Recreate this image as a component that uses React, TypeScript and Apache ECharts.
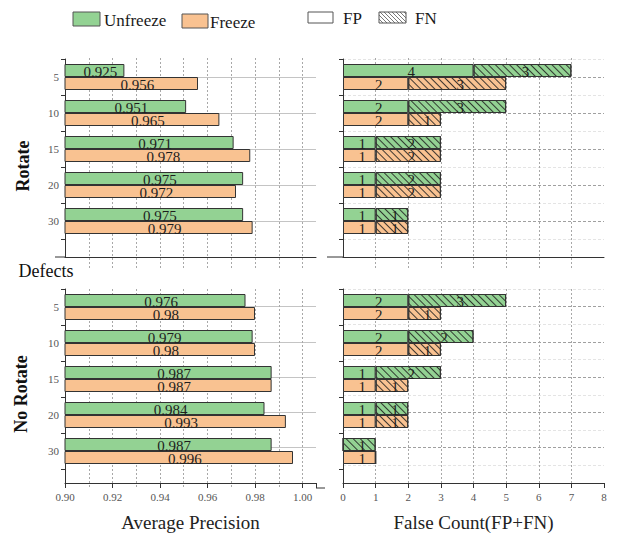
import React, { useEffect, useRef } from 'react';
import * as echarts from 'echarts';

// ---------------- data ----------------
const defects = ['5', '10', '15', '20', '30'];

const rotUnfreezeAP = [0.925, 0.951, 0.971, 0.975, 0.975];
const rotFreezeAP = [0.956, 0.965, 0.978, 0.972, 0.979];
const noRotUnfreezeAP = [0.976, 0.979, 0.987, 0.984, 0.987];
const noRotFreezeAP = [0.98, 0.98, 0.987, 0.993, 0.996];

const rotUnfreezeFP = [4, 2, 1, 1, 1];
const rotUnfreezeFN = [3, 3, 2, 2, 1];
const rotFreezeFP = [2, 2, 1, 1, 1];
const rotFreezeFN = [3, 1, 2, 2, 1];

const noRotUnfreezeFP = [2, 2, 1, 1, 0];
const noRotUnfreezeFN = [3, 2, 2, 1, 1];
const noRotFreezeFP = [2, 2, 1, 1, 1];
const noRotFreezeFN = [1, 1, 1, 1, 0];

const legendNames = ['Unfreeze', 'Freeze', 'FP', 'FN'];
const rowNames = ['Rotate', 'No Rotate'];
const axisNames = ['Average Precision', 'False Count(FP+FN)'];

// ---------------- style ----------------
const FONT = "'Liberation Serif', 'Times New Roman', serif";
const GREEN = '#93d293';
const ORANGE = '#f9c291';
const EDGE = '#333333';
const AP_MIN = 0.9;
const AP_MAX = 0.9 + 251 / 2375;

const hatch: any = {
  symbol: 'rect',
  symbolSize: 1,
  color: 'rgba(30,30,30,0.85)',
  dashArrayX: [1, 0],
  dashArrayY: [1, 3.8],
  rotation: Math.PI / 4,
};

function buildOption() {
  const grid: any[] = [];
  const xAxis: any[] = [];
  const yAxis: any[] = [];
  const series: any[] = [];

  const rows = [
    {
      top: 59, axisH: 198, bgTop: 58, bgH: 212, bottom: false,
      apU: rotUnfreezeAP, apF: rotFreezeAP,
      fpU: rotUnfreezeFP, fnU: rotUnfreezeFN, fpF: rotFreezeFP, fnF: rotFreezeFN,
    },
    {
      top: 289, axisH: 199, bgTop: 289, bgH: 199, bottom: true,
      apU: noRotUnfreezeAP, apF: noRotFreezeAP,
      fpU: noRotUnfreezeFP, fnU: noRotUnfreezeFN, fpF: noRotFreezeFP, fnF: noRotFreezeFN,
    },
  ];

  const labelBase = {
    show: true,
    position: 'inside',
    fontSize: 15,
    fontFamily: FONT,
    color: '#1e1e1e',
  };

  rows.forEach((row) => {
    ['ap', 'cnt'].forEach((kind) => {
      const isAP = kind === 'ap';
      const left = isAP ? 65 : 343;
      const width = isAP ? 251 : 261;
      const min = isAP ? AP_MIN : 0;
      const max = isAP ? AP_MAX : 8;
      const g = grid.length;

      // background grid: vertical dotted lines
      grid.push({ left, top: row.bgTop, width: isAP ? 237.5 : 261, height: row.bgH });
      xAxis.push({
        gridIndex: g, type: 'value', min, max: isAP ? 1.0 : 8, interval: isAP ? 0.01 : 1,
        axisLine: { show: false }, axisTick: { show: false }, axisLabel: { show: false },
        splitLine: {
          show: true, showMinLine: false, showMaxLine: isAP,
          lineStyle: { color: '#a8a8a8', type: [2, 2], width: 1 },
        },
      });
      yAxis.push({ gridIndex: g, type: 'value', min: 0, max: 1, show: false });

      // axis grid: visible axes + horizontal lines
      grid.push({ left, top: row.top, width, height: row.axisH });
      xAxis.push({
        gridIndex: g + 1, type: 'value', min, max, interval: isAP ? 0.02 : 1,
        axisLine: { show: true, onZero: false, lineStyle: { color: EDGE, width: 1 } },
        axisTick: { show: row.bottom, length: 5, lineStyle: { color: EDGE } },
        axisLabel: {
          show: row.bottom, fontSize: 11, color: '#555', fontFamily: FONT, margin: 8,
          formatter: (v: number) => {
            if (!isAP) return String(v);
            return Math.abs(v * 50 - Math.round(v * 50)) < 1e-6 ? v.toFixed(2) : '';
          },
        },
        splitLine: { show: false },
        name: row.bottom ? (isAP ? axisNames[0] : axisNames[1]) : '',
        nameLocation: 'middle', nameGap: 30,
        nameTextStyle: { fontSize: 19, fontFamily: FONT, color: '#222' },
      });
      yAxis.push({
        gridIndex: g + 1, type: 'value', inverse: true, min: 0, max: 11, interval: 1,
        axisLine: { show: true, onZero: false, lineStyle: { color: EDGE, width: 1 } },
        axisTick: { show: false }, axisLabel: { show: false },
        splitLine: {
          show: true,
          lineStyle: {
            color: isAP ? ['rgba(0,0,0,0)', '#c4c4c4'] : ['#e4e4e4', '#a0a0a0'],
            type: isAP ? 'solid' : [3, 2],
            width: 1,
          },
        },
      });

      // data grid
      grid.push({ left, top: row.top, width, height: 180 });
      xAxis.push({ gridIndex: g + 2, type: 'value', min, max, show: false });
      yAxis.push({
        gridIndex: g + 2, type: 'category', data: defects, inverse: true,
        axisLine: { show: false },
        axisTick: { show: true, length: 4, lineStyle: { color: EDGE } },
        axisLabel: { show: isAP, fontSize: 11, color: '#555', fontFamily: FONT, margin: 6 },
        splitLine: { show: false },
      });

      if (isAP) {
        [[legendNames[0], row.apU, GREEN], [legendNames[1], row.apF, ORANGE]].forEach(([name, data, color]: any) => {
          series.push({
            type: 'bar', name, xAxisIndex: g + 2, yAxisIndex: g + 2, data,
            barWidth: 13, barGap: '0%',
            itemStyle: { color, borderColor: EDGE, borderWidth: 1 },
            label: { ...labelBase, offset: [6, 1], formatter: (p: any) => String(p.value) },
          });
        });
      } else {
        const defs: any[] = [
          ['Unfreeze FP', 'u', row.fpU, GREEN, false],
          ['Unfreeze FN', 'u', row.fnU, GREEN, true],
          ['Freeze FP', 'f', row.fpF, ORANGE, false],
          ['Freeze FN', 'f', row.fnF, ORANGE, true],
        ];
        defs.forEach(([name, stack, data, color, hatched]) => {
          series.push({
            type: 'bar', name, stack: stack + g, xAxisIndex: g + 2, yAxisIndex: g + 2, data,
            barWidth: 13, barGap: '0%',
            itemStyle: hatched
              ? { color, borderColor: EDGE, borderWidth: 1, decal: hatch }
              : { color, borderColor: EDGE, borderWidth: 1 },
            label: {
              ...labelBase, offset: [3, 1],
              formatter: (p: any) => (p.value ? String(p.value) : ''),
            },
          });
        });
      }
    });
  });

  // legend + decorations as graphic
  const graphic: any[] = [];
  const txt = (text: string, x: number, y: number, size: number) => ({
    type: 'text', x, y,
    style: { text, fontSize: size, fontFamily: FONT, fill: '#1a1a1a', verticalAlign: 'middle' },
  });
  graphic.push({ type: 'rect', shape: { x: 73, y: 12, width: 27, height: 14 }, style: { fill: GREEN, stroke: '#555', lineWidth: 1 } });
  graphic.push(txt(legendNames[0], 104, 20, 17));
  graphic.push({ type: 'rect', shape: { x: 182, y: 14, width: 26, height: 14 }, style: { fill: ORANGE, stroke: '#555', lineWidth: 1 } });
  graphic.push(txt(legendNames[1], 210, 22, 17));
  graphic.push({ type: 'rect', shape: { x: 308, y: 12, width: 25, height: 11 }, style: { fill: '#fff', stroke: '#555', lineWidth: 1 } });
  graphic.push(txt(legendNames[2], 343, 18.5, 17));
  const hx = 379, hy = 12, hw = 27, hh = 11;
  graphic.push({ type: 'rect', shape: { x: hx, y: hy, width: hw, height: hh }, style: { fill: '#fff', stroke: '#555', lineWidth: 1 } });
  for (let k = -hh; k < hw; k += 4) {
    let x1 = hx + k, y1 = hy, x2 = hx + k + hh, y2 = hy + hh;
    if (x1 < hx) { y1 = hy + (hx - x1); x1 = hx; }
    if (x2 > hx + hw) { y2 = hy + hh - (x2 - (hx + hw)); x2 = hx + hw; }
    graphic.push({ type: 'line', shape: { x1, y1, x2, y2 }, style: { stroke: '#555', lineWidth: 0.8 } });
  }
  graphic.push(txt(legendNames[3], 415, 18.5, 17));

  graphic.push({ type: 'text', x: 23, y: 166, rotation: Math.PI / 2,
    style: { text: rowNames[0], fontSize: 18, fontWeight: 'bold', fontFamily: FONT, fill: '#111', align: 'center', verticalAlign: 'middle' } });
  graphic.push({ type: 'text', x: 21, y: 394, rotation: Math.PI / 2,
    style: { text: rowNames[1], fontSize: 18, fontWeight: 'bold', fontFamily: FONT, fill: '#111', align: 'center', verticalAlign: 'middle' } });
  graphic.push({ type: 'text', x: 46, y: 271,
    style: { text: 'Defects', fontSize: 18, fontFamily: FONT, fill: '#111', align: 'center', verticalAlign: 'middle' } });

  // small axis-line extensions
  graphic.push({ type: 'line', shape: { x1: 55, y1: 257, x2: 65, y2: 257 }, style: { stroke: EDGE, lineWidth: 1 } });
  graphic.push({ type: 'line', shape: { x1: 327, y1: 257, x2: 343, y2: 257 }, style: { stroke: EDGE, lineWidth: 1 } });
  graphic.push({ type: 'line', shape: { x1: 316, y1: 488, x2: 325, y2: 488 }, style: { stroke: EDGE, lineWidth: 1 } });

  return {
    animation: false,
    backgroundColor: '#ffffff',
    textStyle: { fontFamily: FONT },
    grid, xAxis, yAxis, series, graphic,
  };
}

export default function App() {
  const ref = useRef<HTMLDivElement>(null);
  useEffect(() => {
    document.body.style.margin = '0';
    const chart = echarts.init(ref.current!, undefined, { renderer: 'svg' });
    chart.setOption(buildOption() as any);
    return () => chart.dispose();
  }, []);
  return <div ref={ref} style={{ width: 619, height: 533 }} />;
}
